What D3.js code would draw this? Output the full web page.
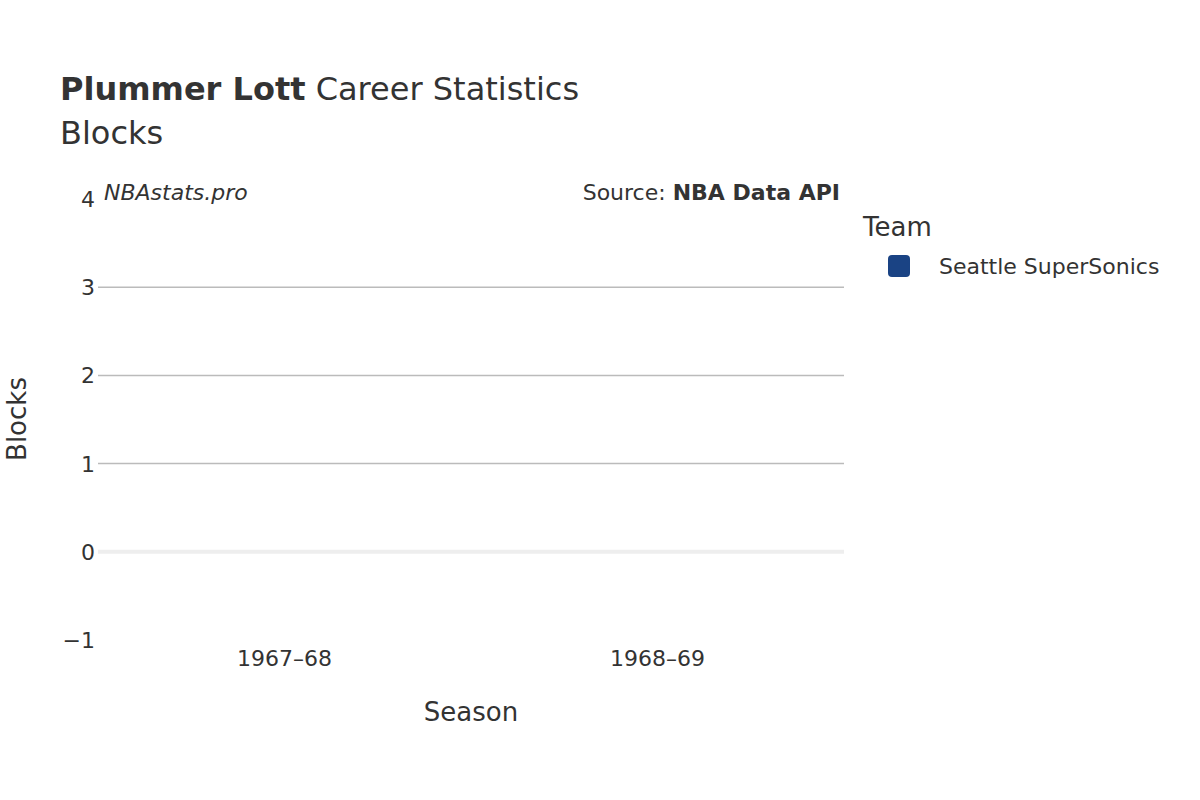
<!DOCTYPE html>
<html>
<head>
<meta charset="utf-8">
<script src="https://cdn.jsdelivr.net/npm/d3@7.9.0/dist/d3.min.js"></script>
<style>
  body { margin: 0; background: #fff; }
  text { font-family: "DejaVu Sans", sans-serif; fill: #333; }
</style>
</head>
<body>
<svg width="1200" height="800"></svg>
<script>
const seasons = ['1967–68', '1968–69'];
const blocks = [0, 0];
const teams = ['Seattle SuperSonics'];
const teamColors = ['#1a4384'];
const yTicks = [-1, 0, 1, 2, 3, 4];

const svg = d3.select('svg');
const m = { left: 98, right: 844, top: 199, bottom: 640 };

const x = d3.scaleBand().domain(seasons).range([m.left, m.right])
   .paddingInner(0.2).paddingOuter(0.1);
const y = d3.scaleLinear().domain([-1, 4]).range([m.bottom, m.top]);

// grid
svg.append('g').selectAll('line')
   .data(yTicks.filter(d => d > 0 && d < 4))
   .join('line')
   .attr('x1', m.left).attr('x2', m.right)
   .attr('y1', d => y(d)).attr('y2', d => y(d))
   .attr('stroke', '#bbb').attr('stroke-width', 1.5);

svg.append('line')
   .attr('x1', m.left).attr('x2', m.right)
   .attr('y1', y(0)).attr('y2', y(0))
   .attr('stroke', '#eee').attr('stroke-width', 4);

// bars (zero height)
svg.append('g').selectAll('rect')
   .data(blocks)
   .join('rect')
   .attr('x', (d, i) => x(seasons[i]))
   .attr('width', x.bandwidth())
   .attr('y', d => y(Math.max(0, d)))
   .attr('height', d => Math.abs(y(d) - y(0)))
   .attr('fill', teamColors[0]);

// y tick labels
svg.append('g').selectAll('text')
   .data(yTicks)
   .join('text')
   .attr('x', 95).attr('y', d => y(d) + 8)
   .attr('text-anchor', 'end')
   .attr('font-size', 22)
   .text(d => d < 0 ? '−' + Math.abs(d) : d);

// x tick labels
svg.append('g').selectAll('text')
   .data(seasons)
   .join('text')
   .attr('x', d => x(d) + x.bandwidth() / 2).attr('y', 666)
   .attr('text-anchor', 'middle')
   .attr('font-size', 22)
   .text(d => d);

// axis titles
svg.append('text').attr('x', 471).attr('y', 721).attr('text-anchor', 'middle')
   .attr('font-size', 26).text('Season');
svg.append('text').attr('transform', 'translate(26,419) rotate(-90)')
   .attr('text-anchor', 'middle').attr('font-size', 26).text('Blocks');

// titles
const t = svg.append('text').attr('x', 60).attr('y', 100).attr('font-size', 32);
t.append('tspan').attr('font-weight', 'bold').text('Plummer Lott');
t.append('tspan').text(' Career Statistics');
svg.append('text').attr('x', 60).attr('y', 144).attr('font-size', 32).text('Blocks');

svg.append('text').attr('x', 104).attr('y', 200).attr('font-size', 22)
   .attr('font-style', 'italic').text('NBAstats.pro');
const s = svg.append('text').attr('x', 840).attr('y', 200).attr('font-size', 22)
   .attr('text-anchor', 'end');
s.append('tspan').text('Source: ');
s.append('tspan').attr('font-weight', 'bold').text('NBA Data API');

// legend
svg.append('text').attr('x', 863).attr('y', 236).attr('font-size', 26).text('Team');
const lg = svg.append('g').selectAll('g').data(teams).join('g')
   .attr('transform', (d, i) => `translate(888,${255 + i * 30})`);
lg.append('rect').attr('width', 22).attr('height', 22).attr('rx', 4)
   .attr('fill', (d, i) => teamColors[i]);
lg.append('text').attr('x', 51).attr('y', 19).attr('font-size', 22).text(d => d);
</script>
</body>
</html>
